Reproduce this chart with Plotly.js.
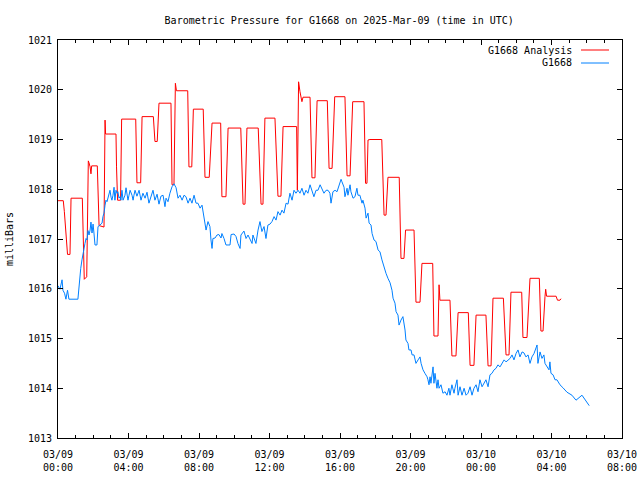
<!DOCTYPE html>
<html>
<head>
<meta charset="utf-8">
<script src="https://cdn.plot.ly/plotly-3.0.1.min.js"></script>
<style>html,body{margin:0;padding:0;background:#fff;}#chart{width:640px;height:480px;}</style>
</head>
<body>
<div id="chart"></div>
<script>
// Hours since 2025-03-09 00:00 UTC
const analysisHours = [0.00,0.30,0.36,0.44,0.51,0.54,0.68,0.71,0.74,1.38,1.42,1.46,1.49,1.63,1.65,1.69,1.72,1.76,1.82,1.87,1.91,2.23,2.27,2.33,2.61,2.63,2.67,2.70,3.29,3.32,3.38,3.55,3.61,4.41,4.48,4.69,4.77,5.41,5.50,5.63,5.73,6.41,6.47,6.58,6.66,6.72,7.36,7.43,7.59,7.68,8.24,8.34,8.58,8.74,9.23,9.30,9.53,9.65,10.37,10.50,10.61,10.72,11.36,11.52,11.63,11.74,12.31,12.48,12.65,12.77,13.54,13.58,13.65,13.73,13.84,13.90,14.30,14.41,14.58,14.70,15.28,15.38,15.55,15.70,16.28,16.40,16.57,16.72,17.36,17.45,17.53,17.59,17.70,18.37,18.50,18.61,18.72,19.36,19.46,19.63,19.72,20.20,20.31,20.54,20.65,21.26,21.33,21.56,21.62,21.67,22.24,22.35,22.58,22.70,23.28,23.38,23.60,23.72,24.28,24.40,24.57,24.68,25.27,25.42,25.59,25.70,26.31,26.38,26.61,26.78,27.31,27.40,27.52,27.63,27.67,27.72,28.26,28.34,28.48,28.54];
const analysisValues = [1017.77,1017.77,1017.55,1017.12,1016.82,1016.69,1016.69,1017.25,1017.82,1017.82,1017.02,1016.72,1016.19,1016.24,1016.82,1017.96,1018.57,1018.53,1018.45,1018.31,1018.47,1018.47,1017.85,1017.27,1017.24,1018.86,1019.39,1019.11,1019.11,1018.45,1017.78,1017.78,1019.41,1019.41,1018.13,1018.13,1019.46,1019.46,1018.96,1018.96,1019.73,1019.73,1018.09,1018.09,1020.13,1019.98,1019.98,1018.45,1018.45,1019.61,1019.61,1018.24,1018.24,1019.33,1019.33,1017.85,1017.85,1019.23,1019.23,1017.70,1017.70,1019.23,1019.23,1017.70,1017.70,1019.43,1019.43,1017.86,1017.86,1019.26,1019.26,1017.98,1020.16,1019.96,1019.76,1019.85,1019.85,1018.23,1018.23,1019.78,1019.78,1018.42,1018.42,1019.86,1019.86,1018.27,1018.27,1019.76,1019.76,1018.12,1018.12,1018.99,1019.00,1019.00,1017.48,1017.48,1018.24,1018.24,1016.61,1016.61,1017.18,1017.18,1015.73,1015.73,1016.51,1016.51,1015.05,1015.05,1016.08,1015.77,1015.77,1014.65,1014.65,1015.52,1015.52,1014.46,1014.46,1015.47,1015.47,1014.45,1014.45,1015.81,1015.81,1014.67,1014.67,1015.93,1015.93,1015.02,1015.02,1016.21,1016.21,1015.15,1015.15,1015.84,1015.99,1015.85,1015.85,1015.77,1015.77,1015.80];

const obsHours = [0.00,0.11,0.23,0.28,0.37,0.45,0.54,0.62,1.13,1.19,1.29,1.36,1.42,1.48,1.53,1.59,1.65,1.70,1.76,1.82,1.87,1.93,1.99,2.04,2.10,2.21,2.27,2.38,2.50,2.55,2.61,2.67,2.72,2.78,2.84,2.95,3.01,3.06,3.12,3.18,3.23,3.29,3.35,3.40,3.46,3.52,3.57,3.63,3.69,3.80,3.86,3.97,4.03,4.09,4.20,4.26,4.31,4.37,4.48,4.60,4.71,4.82,4.94,5.05,5.16,5.28,5.39,5.50,5.62,5.73,5.84,5.96,6.07,6.13,6.24,6.35,6.47,6.58,6.70,6.81,6.92,7.04,7.15,7.26,7.38,7.49,7.60,7.72,7.83,7.94,8.06,8.17,8.28,8.40,8.51,8.62,8.68,8.74,8.79,8.91,9.02,9.13,9.25,9.30,9.42,9.53,9.76,9.82,9.99,10.10,10.21,10.33,10.38,10.55,10.67,10.78,10.89,11.01,11.06,11.23,11.35,11.46,11.57,11.69,11.80,11.91,12.03,12.14,12.26,12.37,12.48,12.60,12.71,12.82,12.94,13.05,13.16,13.28,13.39,13.50,13.62,13.73,13.84,13.96,14.07,14.18,14.30,14.41,14.52,14.64,14.75,14.87,14.98,15.09,15.21,15.32,15.43,15.49,15.60,15.72,15.83,15.94,16.06,16.11,16.23,16.28,16.40,16.45,16.57,16.62,16.74,16.85,16.96,17.02,17.13,17.25,17.30,17.42,17.48,17.59,17.65,17.76,17.82,17.93,18.04,18.16,18.27,18.38,18.50,18.61,18.72,18.84,18.95,19.01,19.12,19.18,19.29,19.35,19.46,19.57,19.69,19.74,19.86,19.91,20.03,20.09,20.20,20.31,20.43,20.54,20.60,20.71,20.82,20.94,20.99,21.05,21.11,21.16,21.28,21.33,21.39,21.50,21.56,21.62,21.73,21.84,21.96,22.07,22.18,22.24,22.35,22.47,22.52,22.64,22.70,22.81,22.92,23.04,23.15,23.26,23.38,23.49,23.60,23.72,23.83,23.94,24.06,24.17,24.28,24.40,24.51,24.62,24.74,24.85,24.96,25.08,25.19,25.31,25.42,25.53,25.65,25.76,25.87,25.99,26.10,26.21,26.33,26.44,26.55,26.67,26.78,26.89,27.01,27.12,27.18,27.23,27.35,27.46,27.57,27.63,27.74,27.86,27.91,27.97,28.09,28.20,28.31,28.48,28.65,28.88,29.16,29.39,29.73,30.14];
const obsValues = [1016.06,1015.99,1016.18,1015.97,1015.91,1015.79,1015.97,1015.79,1015.79,1016.08,1016.41,1016.58,1016.72,1016.78,1016.91,1017.01,1016.98,1017.17,1017.08,1017.18,1017.34,1017.12,1017.30,1017.12,1016.88,1016.88,1017.25,1017.28,1017.32,1017.45,1017.52,1017.68,1017.78,1017.75,1017.85,1017.98,1017.84,1017.78,1017.88,1018.04,1017.78,1017.98,1017.92,1017.95,1017.82,1017.85,1017.78,1017.98,1017.78,1017.88,1018.03,1017.78,1017.88,1017.98,1017.88,1017.78,1017.88,1017.98,1017.86,1017.98,1017.78,1017.92,1017.82,1017.94,1017.72,1017.88,1017.98,1017.78,1017.90,1017.70,1017.86,1017.88,1017.65,1017.82,1017.75,1017.92,1018.05,1018.11,1018.03,1017.82,1017.88,1017.78,1017.88,1017.85,1017.72,1017.82,1017.72,1017.88,1017.72,1017.72,1017.62,1017.68,1017.40,1017.18,1017.35,1017.25,1016.98,1016.81,1017.01,1017.02,1017.08,1017.09,1017.02,1017.11,1017.01,1016.88,1016.88,1017.09,1017.10,1017.05,1016.91,1016.81,1017.08,1017.16,1017.01,1017.08,1017.00,1016.91,1017.08,1016.91,1017.18,1017.35,1017.15,1017.25,1017.01,1017.28,1017.30,1017.35,1017.45,1017.38,1017.55,1017.48,1017.58,1017.52,1017.72,1017.70,1017.92,1017.78,1017.98,1017.92,1017.98,1017.92,1018.02,1017.88,1017.98,1017.92,1018.09,1017.98,1017.85,1017.98,1017.98,1018.09,1018.02,1017.92,1017.98,1017.98,1017.92,1017.72,1017.95,1017.98,1017.95,1018.09,1018.20,1018.15,1018.04,1017.85,1018.02,1017.88,1018.09,1017.95,1017.82,1017.85,1018.02,1017.88,1017.88,1017.72,1017.78,1017.62,1017.42,1017.52,1017.32,1017.28,1017.11,1016.98,1016.95,1016.78,1016.74,1016.58,1016.41,1016.31,1016.21,1016.12,1015.97,1015.81,1015.71,1015.54,1015.47,1015.27,1015.37,1015.44,1015.17,1014.97,1014.90,1014.77,1014.77,1014.67,1014.67,1014.50,1014.57,1014.63,1014.50,1014.37,1014.30,1014.23,1014.17,1014.07,1014.23,1014.10,1014.43,1014.10,1014.30,1014.00,1014.17,1014.00,1014.07,1013.90,1013.93,1013.86,1014.00,1013.86,1014.07,1013.90,1014.00,1014.17,1013.86,1014.03,1013.86,1014.00,1013.86,1013.90,1014.03,1013.86,1014.00,1014.07,1013.93,1014.17,1014.03,1014.10,1014.17,1014.03,1014.27,1014.30,1014.37,1014.40,1014.47,1014.43,1014.49,1014.57,1014.53,1014.57,1014.60,1014.67,1014.57,1014.70,1014.77,1014.63,1014.73,1014.71,1014.63,1014.67,1014.50,1014.63,1014.70,1014.81,1014.87,1014.50,1014.73,1014.60,1014.67,1014.50,1014.43,1014.37,1014.53,1014.30,1014.27,1014.17,1014.17,1014.07,1014.01,1013.92,1013.86,1013.76,1013.86,1013.65];

const xTickVals = [0,4,8,12,16,20,24,28,32];
const xTickText = ['03/09<br>00:00','03/09<br>04:00','03/09<br>08:00','03/09<br>12:00','03/09<br>16:00','03/09<br>20:00','03/10<br>00:00','03/10<br>04:00','03/10<br>08:00'];
const seriesNames = ['G1668 Analysis','G1668'];
const seriesColors = ['#ff0000','rgb(0,128,255)'];

const font = {family: 'DejaVu Sans Mono, monospace', size: 10, color: '#000'};

const traces = [
  {x: analysisHours, y: analysisValues, type: 'scatter', mode: 'lines', name: seriesNames[0],
   line: {color: seriesColors[0], width: 1}, showlegend: false},
  {x: obsHours, y: obsValues, type: 'scatter', mode: 'lines', name: seriesNames[1],
   line: {color: seriesColors[1], width: 1}, showlegend: false}
];

const layout = {
  width: 640, height: 480,
  margin: {l: 58, r: 18, t: 40, b: 42},
  paper_bgcolor: '#fff', plot_bgcolor: '#fff',
  font: font,
  title: {text: 'Barometric Pressure for G1668 on 2025-Mar-09 (time in UTC)', font: font,
          x: 0.53, xanchor: 'center', y: 0.958, yanchor: 'middle'},
  xaxis: {
    range: [0, 32], tickvals: xTickVals, ticktext: xTickText,
    ticks: 'inside', ticklen: 5, tickcolor: '#000', tickwidth: 1,
    showline: true, linecolor: '#000', linewidth: 1, mirror: 'ticks',
    showgrid: false, zeroline: false, tickfont: font, ticklabelstandoff: 7,
    minor: {dtick: 1, ticks: 'inside', ticklen: 3, tickcolor: '#000', showgrid: false}
  },
  yaxis: {
    range: [1013, 1021], dtick: 1, tick0: 1013,
    ticks: 'inside', ticklen: 5, tickcolor: '#000', tickwidth: 1,
    showline: true, linecolor: '#000', linewidth: 1, mirror: 'ticks',
    showgrid: false, zeroline: false, tickfont: font, tickformat: 'd', ticklabelstandoff: 3,
    title: {text: 'milliBars', font: font, standoff: 12}
  },
  annotations: [
    {xref: 'paper', yref: 'paper', x: (574-58)/564, y: (438-50)/398, xanchor: 'right', yanchor: 'middle',
     text: seriesNames[0], showarrow: false, font: font},
    {xref: 'paper', yref: 'paper', x: (574-58)/564, y: (438-63)/398, xanchor: 'right', yanchor: 'middle',
     text: seriesNames[1], showarrow: false, font: font}
  ],
  shapes: [
    {type: 'line', xref: 'paper', yref: 'paper', x0: (581-58)/564, x1: (609-58)/564,
     y0: (438-50)/398, y1: (438-50)/398, line: {color: seriesColors[0], width: 1}},
    {type: 'line', xref: 'paper', yref: 'paper', x0: (581-58)/564, x1: (609-58)/564,
     y0: (438-63)/398, y1: (438-63)/398, line: {color: seriesColors[1], width: 1}}
  ],
  hovermode: false
};

Plotly.newPlot('chart', traces, layout, {displayModeBar: false, staticPlot: true});
</script>
</body>
</html>
